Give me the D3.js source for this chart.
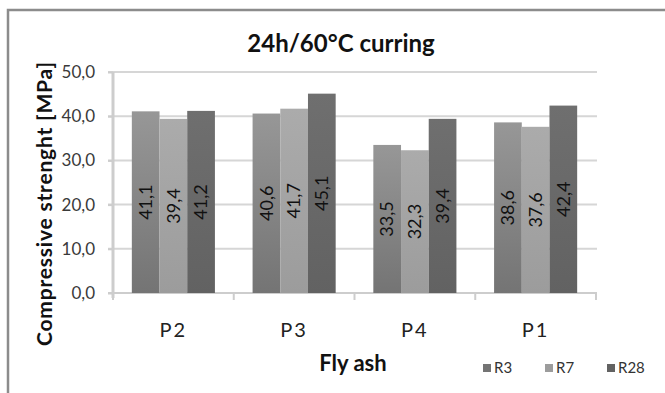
<!DOCTYPE html>
<html>
<head>
<meta charset="utf-8">
<script src="https://cdn.jsdelivr.net/npm/d3@7"></script>
<style>
  body { margin: 0; background: #fff; }
  svg { display: block; font-family: Lato, "Open Sans", sans-serif; }
</style>
</head>
<body>
<div id="chart"></div>
<script>
// Chart data
const categories = ['P2', 'P3', 'P4', 'P1'];
const seriesNames = ['R3', 'R7', 'R28'];
const r3 = [41.1, 40.6, 33.5, 38.6];
const r7 = [39.4, 41.7, 32.3, 37.6];
const r28 = [41.2, 45.1, 39.4, 42.4];
const yTicks = [0, 10, 20, 30, 40, 50];

const seriesValues = { R3: r3, R7: r7, R28: r28 };
const colors = {
    R3: ['#979797', '#747474'],
    R7: ['#ababab', '#9c9c9c'],
    R28: ['#6f6f6f', '#626262']
};

const width = 665, height = 393;
const plot = { left: 113, right: 596, top: 72, bottom: 293 };

const svg = d3.select('#chart')
    .append('svg')
    .attr('width', width)
    .attr('height', height);

// Gradients for bars
const defs = svg.append('defs');
seriesNames.forEach(s => {
    const g = defs.append('linearGradient')
        .attr('id', 'grad-' + s)
        .attr('x1', 0).attr('y1', 0).attr('x2', 0).attr('y2', 1);
    g.append('stop').attr('offset', '0%').attr('stop-color', colors[s][0]);
    g.append('stop').attr('offset', '100%').attr('stop-color', colors[s][1]);
});

// Outer frame (runs off the right and bottom edges)
svg.append('path')
    .attr('d', `M8,${height + 5} L8,10 L${width + 5},10`)
    .attr('fill', 'none')
    .attr('stroke', '#8c8c8c')
    .attr('stroke-width', 2.5);

const x0 = d3.scaleBand()
    .domain(categories)
    .range([plot.left, plot.right]);

const x1 = d3.scaleBand()
    .domain(seriesNames)
    .range([0, x0.bandwidth()])
    .paddingOuter(0.68);

const y = d3.scaleLinear()
    .domain([0, 50])
    .range([plot.bottom, plot.top]);

const fmt = d => d.toFixed(1).replace('.', ',');

// Gridlines
svg.append('g')
    .attr('class', 'grid')
    .selectAll('line')
    .data(yTicks.filter(d => d > 0))
    .enter()
    .append('line')
    .attr('x1', plot.left - 5)
    .attr('x2', plot.right + 1)
    .attr('y1', d => y(d))
    .attr('y2', d => y(d))
    .attr('stroke', '#d6d6d6')
    .attr('stroke-width', 2);

// Y axis
const yAxis = svg.append('g')
    .attr('transform', `translate(${plot.left},0)`)
    .call(d3.axisLeft(y).tickValues(yTicks).tickSize(5).tickPadding(13).tickFormat(fmt));
yAxis.select('.domain').remove();
yAxis.append('line')
    .attr('x1', 0).attr('x2', 0)
    .attr('y1', plot.top).attr('y2', plot.bottom + 5)
    .attr('stroke', '#cdcdcd')
    .attr('stroke-width', 3);
yAxis.selectAll('.tick line').attr('stroke', '#cdcdcd').attr('stroke-width', 2);
yAxis.selectAll('.tick text')
    .attr('fill', '#3a3a3a')
    .style('font-size', '17px')
    .style('font-family', 'Lato, sans-serif');

// X axis
svg.append('line')
    .attr('x1', plot.left - 5).attr('x2', plot.right + 1)
    .attr('y1', plot.bottom).attr('y2', plot.bottom)
    .attr('stroke', '#cdcdcd')
    .attr('stroke-width', 2);

svg.append('g')
    .selectAll('line')
    .data(categories.map(c => x0(c)).concat([plot.right]))
    .enter()
    .append('line')
    .attr('x1', d => d).attr('x2', d => d)
    .attr('y1', plot.bottom).attr('y2', plot.bottom + 7)
    .attr('stroke', '#cdcdcd')
    .attr('stroke-width', 2);

svg.append('g')
    .selectAll('text')
    .data(categories)
    .enter()
    .append('text')
    .attr('x', d => x0(d) + x0.bandwidth() / 2)
    .attr('y', 337)
    .attr('text-anchor', 'middle')
    .attr('fill', '#222')
    .style('font-size', '20px')
    .style('letter-spacing', '2px')
    .text(d => d);

// Bars
const groups = svg.append('g')
    .selectAll('g')
    .data(categories)
    .enter()
    .append('g')
    .attr('transform', d => `translate(${x0(d)},0)`);

groups.selectAll('rect')
    .data((c, i) => seriesNames.map(s => ({ s, v: seriesValues[s][i] })))
    .enter()
    .append('rect')
    .attr('x', d => x1(d.s))
    .attr('width', x1.bandwidth())
    .attr('y', d => y(d.v))
    .attr('height', d => y(0) - y(d.v))
    .attr('fill', d => `url(#grad-${d.s})`);

// Value labels (rotated, centred in bar)
groups.selectAll('text')
    .data((c, i) => seriesNames.map(s => ({ s, v: seriesValues[s][i] })))
    .enter()
    .append('text')
    .attr('transform', d => `translate(${x1(d.s) + x1.bandwidth() / 2},${y(d.v / 2)}) rotate(-90)`)
    .attr('text-anchor', 'middle')
    .attr('dy', '0.35em')
    .attr('fill', '#111')
    .style('font-size', '18px')
    .text(d => fmt(d.v));

// Title
svg.append('text')
    .attr('x', 341)
    .attr('y', 52)
    .attr('text-anchor', 'middle')
    .attr('fill', '#111')
    .style('font-size', '24px')
    .style('font-weight', 'bold')
    .text('24h/60°C curring');

// Y axis title
svg.append('text')
    .attr('transform', 'translate(52,204) rotate(-90)')
    .attr('text-anchor', 'middle')
    .attr('fill', '#111')
    .attr('textLength', 284)
    .attr('lengthAdjust', 'spacing')
    .style('font-size', '21px')
    .style('font-weight', 'bold')
    .text('Compressive strenght [MPa]');

// X axis title
svg.append('text')
    .attr('x', 353)
    .attr('y', 371)
    .attr('text-anchor', 'middle')
    .attr('fill', '#111')
    .style('font-size', '22px')
    .style('font-weight', 'bold')
    .text('Fly ash');

// Legend
const legendX = [483, 545, 607];
const legend = svg.append('g')
    .selectAll('g')
    .data(seriesNames)
    .enter()
    .append('g')
    .attr('transform', (d, i) => `translate(${legendX[i]},368)`);

legend.append('rect')
    .attr('x', 0).attr('y', -4)
    .attr('width', 8).attr('height', 8)
    .attr('fill', d => colors[d][1]);

legend.append('text')
    .attr('x', 11)
    .attr('y', 5)
    .attr('fill', '#333')
    .style('font-size', '15px')
    .text(d => d);
</script>
</body>
</html>
